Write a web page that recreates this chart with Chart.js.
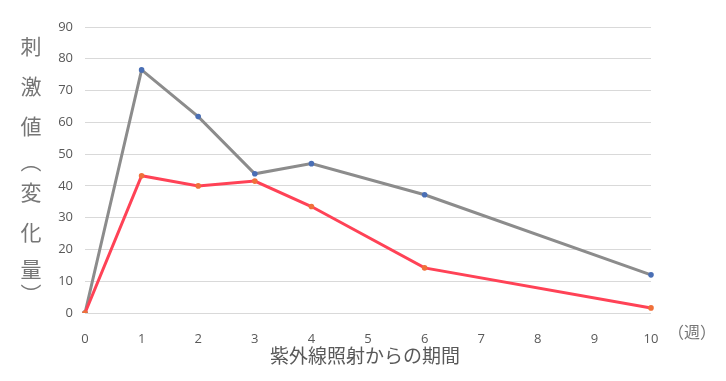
<!DOCTYPE html>
<html>
<head>
<meta charset="utf-8">
<script src="https://cdn.jsdelivr.net/npm/chart.js@4"></script>
<style>
  html, body { margin: 0; padding: 0; background: #fff; }
  #chart { display: block; }
</style>
</head>
<body>
<canvas id="chart" width="726" height="381"></canvas>
<script>
// weeks after UV exposure (category axis, 0..10)
const weeks = ['0', '1', '2', '3', '4', '5', '6', '7', '8', '9', '10'];
const grayValues = [0, 76.5, 61.8, 43.8, 47, null, 37.2, null, null, null, 12];
const redValues = [0, 43.2, 40, 41.5, 33.5, null, 14.2, null, null, null, 1.6];
const yTitleChars = ['刺', '激', '値', '︵', '変', '化', '量', '︶'];
const xTitle = '紫外線照射からの期間';
const unitLabel = '（週）';

const jpFont = '"Noto Sans CJK JP", "Noto Sans", sans-serif';

// extra text: vertical y title, x title, unit label
const textPlugin = {
    id: 'extraText',
    afterDraw(chart) {
        const ctx = chart.ctx;
        const area = chart.chartArea;
        ctx.save();
        ctx.fillStyle = '#767676';
        ctx.textAlign = 'center';
        ctx.textBaseline = 'middle';

        // stacked y title, brackets take less room
        ctx.font = '21px ' + jpFont;
        const steps = [0, 40, 80, 115, 146, 186, 223, 248];
        yTitleChars.forEach((ch, i) => {
            ctx.fillText(ch, 31, 46 + steps[i]);
        });

        ctx.fillStyle = '#595959';
        ctx.font = '19px ' + jpFont;
        ctx.fillText(xTitle, (area.left + area.right) / 2 - 3, 356);

        ctx.fillStyle = '#767676';
        ctx.font = '16px ' + jpFont;
        ctx.fillText(unitLabel, 692, 332);
        ctx.restore();
    }
};

const ctx = document.getElementById('chart').getContext('2d');
new Chart(ctx, {
    type: 'line',
    data: {
        labels: weeks,
        datasets: [{
            data: redValues,
            borderColor: '#ff4256',
            backgroundColor: '#f0703a',
            pointBackgroundColor: '#f0703a',
            pointBorderColor: '#f0703a',
            borderWidth: 3,
            pointRadius: 2.8,
            pointBorderWidth: 0,
            tension: 0,
            spanGaps: true
        }, {
            data: grayValues,
            borderColor: '#8c8c8c',
            backgroundColor: '#4a6fb5',
            pointBackgroundColor: '#4a6fb5',
            pointBorderColor: '#4a6fb5',
            borderWidth: 3,
            pointRadius: 2.8,
            pointBorderWidth: 0,
            tension: 0,
            spanGaps: true
        }]
    },
    options: {
        responsive: false,
        animation: false,
        layout: { padding: { left: 0, right: 75, top: 27, bottom: 0 } },
        scales: {
            x: {
                type: 'category',
                offset: false,
                grid: { display: false },
                border: { display: false },
                ticks: {
                    color: '#595959',
                    font: { family: '"Open Sans", sans-serif', size: 13 },
                    padding: 10,
                    maxRotation: 0,
                    autoSkip: false
                },
                afterFit(scale) { scale.height = 68; }
            },
            y: {
                min: 0,
                max: 90,
                ticks: {
                    stepSize: 10,
                    color: '#595959',
                    font: { family: '"Open Sans", sans-serif', size: 13 },
                    padding: 12
                },
                grid: { color: '#d9d9d9', lineWidth: 1, drawTicks: false },
                border: { display: false },
                afterFit(scale) { scale.width = 85; }
            }
        },
        plugins: {
            legend: { display: false },
            tooltip: { enabled: false }
        }
    },
    plugins: [textPlugin]
});
</script>
</body>
</html>
